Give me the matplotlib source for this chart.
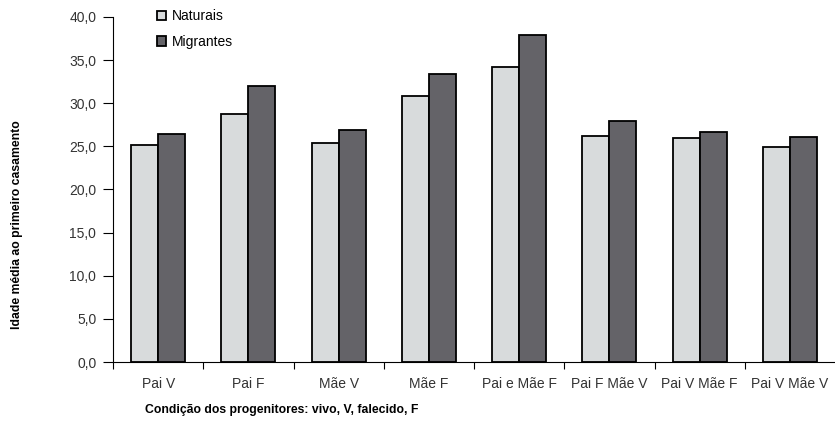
import matplotlib.pyplot as plt
import numpy as np

categorias = ['Pai V', 'Pai F', 'Mãe V', 'Mãe F', 'Pai e Mãe F', 'Pai F Mãe V', 'Pai V Mãe F', 'Pai V Mãe V']
naturais = [25.2, 28.8, 25.4, 30.8, 34.2, 26.2, 26.0, 24.9]
migrantes = [26.4, 32.0, 26.9, 33.4, 37.9, 27.9, 26.7, 26.1]
yticks = [0, 5, 10, 15, 20, 25, 30, 35, 40]

plt.rcParams['font.family'] = ['Liberation Sans', 'DejaVu Sans']

fig = plt.figure(figsize=(8.35, 4.48), dpi=100)
ax = fig.add_axes([113/835, 1 - 362/448, 1 - 113/835, 345/448])

x = np.arange(len(categorias))
w = 0.3
ax.bar(x - w/2, naturais, w, color='#d8dbdc', edgecolor='black', lw=1.3, label='Naturais')
ax.bar(x + w/2, migrantes, w, color='#646368', edgecolor='black', lw=1.3, label='Migrantes')

ax.set_xlim(-0.5, 7.5)
ax.set_ylim(0, 40)
ax.set_yticks(yticks)
ax.set_yticklabels(['{:.1f}'.format(v).replace('.', ',') for v in yticks], fontsize=10, color='#333333')
ax.set_xticks(x)
ax.set_xticklabels(categorias, fontsize=10, color='#333333')
ax.tick_params(axis='x', which='major', length=0, pad=11)
ax.set_xticks(np.arange(-0.5, 7.5, 1), minor=True)
ax.tick_params(axis='x', which='minor', length=5, width=0.8, direction='out')
ax.tick_params(axis='y', length=7, width=0.8, direction='out', pad=5)

for s in ['top', 'right']:
    ax.spines[s].set_visible(False)

ax.legend(loc='upper left', bbox_to_anchor=(0.043, 1.058), frameon=False, fontsize=10,
          handlelength=0.7, handleheight=0.7, handletextpad=0.4, labelspacing=0.8)

fig.text(17/835, 1 - 225/448, 'Idade média ao primeiro casamento', rotation=90,
         ha='center', va='center', fontsize=8.8, fontweight='bold')
fig.text(145/835, 1 - 410/448, 'Condição dos progenitores: vivo, V, falecido, F',
         ha='left', va='center', fontsize=8.8, fontweight='bold')

fig.savefig('out.png', dpi=100)
